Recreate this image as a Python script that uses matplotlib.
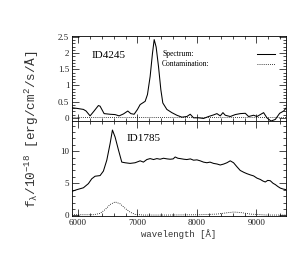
import numpy as np
import matplotlib
matplotlib.use('Agg')
import matplotlib.pyplot as plt
from matplotlib.ticker import MultipleLocator

plt.rcParams['font.family'] = ['Liberation Serif', 'DejaVu Serif']
plt.rcParams['mathtext.fontset'] = 'custom'
plt.rcParams['mathtext.rm'] = 'Liberation Mono'
plt.rcParams['mathtext.it'] = 'Liberation Mono'
plt.rcParams['mathtext.default'] = 'regular'

# ID4245 spectrum (top panel)
wl_top = [5900, 5990, 6091, 6136, 6203, 6270, 6343, 6371, 6439, 6540, 6624, 6691,
          6764, 6837, 6888, 6944, 7000, 7045, 7129, 7168, 7213, 7252, 7281, 7314,
          7354, 7393, 7426, 7494, 7578, 7662, 7746, 7830, 7887, 7943, 8027, 8111,
          8195, 8279, 8336, 8392, 8437, 8476, 8560, 8644, 8728, 8813, 8869, 8953,
          9009, 9121, 9177, 9245, 9318, 9391, 9458, 9503]
flux_top = [0.31, 0.29, 0.26, 0.21, 0.06, 0.21, 0.38, 0.36, 0.13, 0.11, 0.10, 0.06,
            0.12, 0.21, 0.13, 0.11, 0.26, 0.41, 0.51, 0.72, 1.28, 1.99, 2.42, 2.19,
            1.58, 0.87, 0.46, 0.26, 0.16, 0.08, 0.02, 0.04, 0.11, 0.00, 0.00, -0.02,
            0.04, 0.09, 0.13, 0.06, 0.16, 0.08, 0.04, 0.10, 0.13, 0.14, 0.04, 0.08,
            0.04, 0.16, 0.00, -0.10, -0.05, 0.14, 0.21, 0.31]
wl_top_cont = [5900, 9500]
cont_top = [0.03, 0.03]

# ID1785 spectrum (bottom panel)
wl_bot = [5900, 5979, 6091, 6175, 6231, 6287, 6371, 6427, 6484, 6540, 6579, 6624,
          6680, 6736, 6792, 6876, 6960, 7045, 7100, 7157, 7213, 7270, 7326, 7380,
          7438, 7500, 7550, 7600, 7634, 7680, 7718, 7780, 7830, 7890, 7943, 8000,
          8055, 8110, 8167, 8220, 8279, 8340, 8392, 8450, 8504, 8560, 8616, 8670,
          8728, 8790, 8840, 8900, 8953, 9010, 9065, 9110, 9149, 9190, 9233, 9280,
          9318, 9360, 9402, 9450, 9503]
flux_bot = [3.75, 4.0, 4.3, 4.95, 5.7, 6.1, 6.2, 6.9, 8.6, 11.2, 13.3, 12.2,
            10.2, 8.3, 8.2, 8.1, 8.2, 8.5, 8.3, 8.7, 8.85, 8.7, 8.85, 8.75,
            8.9, 8.8, 8.75, 8.8, 9.1, 8.9, 8.85, 8.75, 8.7, 8.8, 8.6, 8.65,
            8.5, 8.3, 8.2, 8.3, 8.1, 8.0, 7.85, 8.0, 8.2, 8.5, 8.2, 7.6,
            7.0, 6.7, 6.5, 6.3, 6.15, 5.8, 5.6, 5.35, 5.2, 5.45, 5.4, 5.0,
            4.8, 4.5, 4.25, 4.1, 4.0]
wl_bot_cont = [5900, 6259, 6371, 6456, 6540, 6624, 6708, 6792, 6876, 6960, 7100,
               7494, 8055, 8336, 8504, 8616, 8728, 8897, 9177, 9503]
cont_bot = [0.1, 0.1, 0.3, 0.9, 1.7, 2.1, 1.8, 1.1, 0.5, 0.15, 0.05,
            0.05, 0.1, 0.2, 0.4, 0.52, 0.45, 0.2, 0.05, 0.05]

fig = plt.figure(figsize=(2.99, 2.69), dpi=100)
ax1 = fig.add_axes([0.241, 0.550, 0.716, 0.316])
ax2 = fig.add_axes([0.241, 0.197, 0.716, 0.353], sharex=ax1)

lw = 0.75
dots = (0, (1, 1.5))
ax1.plot(wl_top, flux_top, color='black', lw=lw)
ax1.plot(wl_top_cont, cont_top, color='black', lw=0.6, ls=dots)
ax2.plot(wl_bot, flux_bot, color='black', lw=lw)
ax2.plot(wl_bot_cont, cont_bot, color='black', lw=0.6, ls=dots)

ax1.set_xlim(5900, 9500)
ax1.set_ylim(-0.1, 2.53)
ax2.set_ylim(-0.1, 14.7)

ax1.set_yticks([0, 0.5, 1, 1.5, 2, 2.5])
ax1.set_yticklabels(['0', '0.5', '1', '1.5', '2', '2.5'])
ax1.yaxis.set_minor_locator(MultipleLocator(0.1))
ax2.yaxis.set_major_locator(MultipleLocator(5))
ax2.yaxis.set_minor_locator(MultipleLocator(1))
ax2.xaxis.set_major_locator(MultipleLocator(1000))
ax2.xaxis.set_minor_locator(MultipleLocator(200))

for ax in (ax1, ax2):
    ax.tick_params(which='both', direction='in', top=True, right=True,
                   labelsize=6.5, width=0.5, pad=2, labelcolor='#222222')
    ax.tick_params(which='major', length=5)
    ax.tick_params(which='minor', length=2.5)
    for s in ax.spines.values():
        s.set_linewidth(0.6)
plt.setp(ax1.get_xticklabels(), visible=False)

ax1.text(6220, 1.94, 'ID4245', fontsize=8, va='center')
ax2.text(6809, 12.0, 'ID1785', fontsize=8, va='center')

# legend, drawn by hand like the original
ax1.text(7415, 1.97, 'Spectrum:', fontsize=5.5, va='center')
ax1.text(7415, 1.65, 'Contamination:', fontsize=5.5, va='center')
ax1.plot([9015, 9318], [1.97, 1.97], color='black', lw=lw)
ax1.plot([9015, 9318], [1.65, 1.65], color='black', lw=0.6, ls=dots)

ax2.set_xlabel('wavelength [Å]', fontsize=6.5, family='Liberation Mono',
               color='#333333', labelpad=2)
fig.text(0.107, 0.52, r'f$_λ$/10$^{-18}$ [erg/cm$^2$/s/Å]', rotation=90,
         fontsize=9.2, family='Liberation Mono', color='#333333',
         ha='center', va='center')

plt.savefig('out.png', dpi=100)
